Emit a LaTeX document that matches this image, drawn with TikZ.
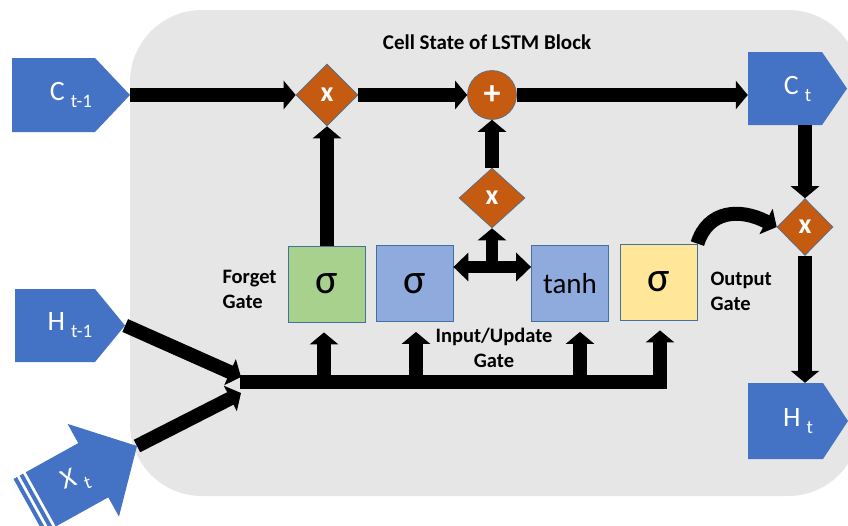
\documentclass[tikz,border=0pt]{standalone}
\usepackage{fontspec}
\setmainfont{Carlito}
\usetikzlibrary{arrows.meta,shapes.geometric,calc}
\definecolor{bg}{HTML}{E7E6E6}
\definecolor{pblue}{HTML}{4472C4}
\definecolor{orng}{HTML}{C55A11}
\definecolor{gfill}{HTML}{A9D18E}
\definecolor{bfill}{HTML}{8FAADC}
\definecolor{yfill}{HTML}{FFE699}
\definecolor{edgec}{HTML}{41719C}
\newcommand\portlabel[2]{{\fontsize{28}{28}\selectfont #1}\hspace{6pt}\raisebox{-7pt}{\fontsize{19}{19}\selectfont #2}}
\begin{document}
\begin{tikzpicture}[x=1pt,y=-1pt,
  port/.style={rectangle, inner sep=0pt, text=white},
  gatebox/.style={draw=edgec, line width=0.8pt, minimum width=77pt, minimum height=76pt, inner sep=0pt, font=\fontsize{42}{42}\selectfont},
  op/.style={diamond, fill=orng, draw=edgec, line width=0.6pt, inner sep=0pt, text=white, font=\bfseries\fontsize{28}{28}\selectfont},
  flow/.style={line width=14pt, -{Triangle[length=12pt,width=28pt]}},
  lbl/.style={font=\bfseries\fontsize{20.5}{25}\selectfont}
]
\clip (0,0) rectangle (848,525);
\fill[bg, rounded corners=72pt] (130,10) rectangle (860,496);

\node[lbl, font=\bfseries\fontsize{21}{25}\selectfont] (title) at (487,42) {Cell State of LSTM Block};

% port shapes
\fill[pblue] (12,58) -- (95,58) -- (130,95) -- (95,132) -- (12,132) -- cycle;
\fill[pblue] (748,52) -- (822,52) -- (847,88.5) -- (822,125) -- (748,125) -- cycle;
\fill[pblue] (15,289) -- (95,289) -- (125,325.5) -- (95,362) -- (15,362) -- cycle;
\fill[pblue] (748,383) -- (823,383) -- (848,421) -- (823,459) -- (748,459) -- cycle;
\node[port, minimum width=118pt, minimum height=74pt] (cm1) at (71,95) {\portlabel{C}{t-1}\hspace{19pt}};
\node[port, minimum width=99pt, minimum height=73pt] (ct) at (797.5,88.5) {\portlabel{C}{t}\hspace{11pt}};
\node[port, minimum width=110pt, minimum height=73pt] (htm1) at (70,325.5) {\portlabel{H}{t-1}\hspace{14pt}};
\node[port, minimum width=100pt, minimum height=76pt] (ht) at (798,421) {\portlabel{H}{t}\hspace{8pt}};

\begin{scope}[shift={(137,446)}, rotate=29]
  \fill[pblue] (0,0) -- (-50,53) -- (-50,31) -- (-110,31) -- (-110,-31) -- (-50,-31) -- (-50,-53) -- cycle;
  \fill[pblue] (-113,31) rectangle (-117,-31);
  \fill[pblue] (-120,31) rectangle (-124,-31);
  \node[text=white, transform shape, rotate=-10] (xtl) at (-70,0) {\portlabel{X}{t}};
  \coordinate (xt) at (0,0);
\end{scope}

% operators
\node[op, minimum width=62pt, minimum height=62pt] (d1) at (327,95) {x};
\node[op, circle, minimum size=49pt, font=\bfseries\fontsize{34}{34}\selectfont] (plus) at (492,95) {+};
\node[op, minimum width=66pt, minimum height=60pt] (d2) at (492,198) {x};
\node[op, minimum width=56pt, minimum height=57pt] (d3) at (805,227) {x};

% gates
\node[gatebox, fill=gfill] (fg) at (326.5,284) {σ};
\node[gatebox, fill=bfill] (ig) at (414.5,283.5) {σ};
\node[gatebox, fill=bfill, font=\fontsize{29}{29}\selectfont] (tg) at (570,283.5) {tanh};
\node[gatebox, fill=yfill] (og) at (658.5,282) {σ};

\node[lbl, align=left, anchor=west] (fgl) at (219,289) {Forget\\Gate};
\node[lbl, align=center] (igl) at (494,348) {Input/Update\\Gate};
\node[lbl, align=left, anchor=west] (ogl) at (707,291) {Output\\Gate};

\coordinate (bus) at (240,382);
\coordinate (hin) at (241,377);
\coordinate (xin) at (241,393);
\coordinate (tee) at (492,267);

% connectors
\draw[flow] (cm1.east) -- (d1.west);
\draw[flow] (d1.east) -- (plus.west);
\draw[flow] (plus.east) -- (plus.east -| ct.west);
\draw[flow] (d1.south |- fg.north) -- (d1.south);
\draw[flow] (d2.north) -- (plus.south);
\draw[line width=12pt, {Triangle[length=15pt,width=28pt]}-{Triangle[length=15pt,width=28pt]}] (tee -| ig.east) -- (tee -| tg.west);
\draw[flow, line width=12pt] (tee) -- (d2.south);
\draw[flow] (d3.north |- ct.south) -- (d3.north);
\draw[flow] (d3.south) -- (d3.south |- ht.north);
\draw[flow] (og.north east) .. controls (708,210) and (740,208) .. (d3.west);
\draw[flow] (htm1.east) -- (hin);
\draw[flow] (xt) -- (xin);
\draw[flow, shorten >=10pt] (bus) -| ([xshift=-2.5pt]fg.south);
\draw[flow, shorten >=10pt] (bus) -| ([xshift=1.5pt]ig.south);
\draw[flow, shorten >=10pt] (bus) -| ([xshift=10pt]tg.south);
\draw[flow, shorten >=10pt] (bus) -| ([xshift=1.5pt]og.south);
\end{tikzpicture}
\end{document}
